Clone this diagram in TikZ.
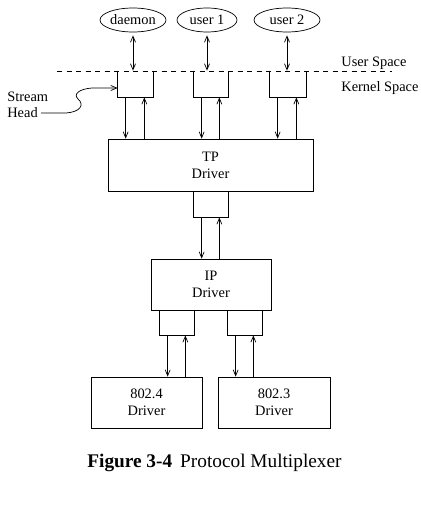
\documentclass[tikz,border=0pt]{standalone}
\usepackage{fontspec}
\setmainfont{Liberation Serif}
\usetikzlibrary{arrows.meta,shapes.geometric}
\begin{document}
\begin{tikzpicture}[x=1pt,y=-1pt,
  line width=0.7pt,
  every node/.style={font=\fontsize{14.4}{17}\selectfont},
  proc/.style={draw, ellipse, inner sep=0pt},
  drv/.style={draw, rectangle, align=center, inner sep=0pt},
  mod/.style={draw, rectangle, inner sep=0pt},
  headbox/.style={rectangle, inner sep=0pt},
  lbl/.style={inner sep=0pt},
  flow/.style={-{Straight Barb[length=6pt,width=5pt]}},
  both/.style={{Straight Barb[length=6pt,width=5pt]}-{Straight Barb[length=6pt,width=5pt]}, shorten <=3pt},
]
\useasboundingbox (0,0) rectangle (420,532);

% user processes
\node[proc, minimum width=66pt, minimum height=24pt] (daemon) at (133,20) {daemon};
\node[proc, minimum width=60pt, minimum height=24pt] (user1) at (207,20) {user 1};
\node[proc, minimum width=66pt, minimum height=24pt] (user2) at (287,20) {user 2};

% user/kernel boundary
\coordinate (bl) at (57,71);
\coordinate (br) at (392,71);
\draw[dash pattern=on 5pt off 4.5pt] (bl) -- (br);
\node[lbl, anchor=west] (us) at (341,63) {User Space};
\node[lbl, anchor=west] (ks) at (341,88) {Kernel Space};

% stream heads (open at the top, on the boundary)
\node[headbox, minimum width=35pt, minimum height=26pt] (sh1) at (135.5,84) {};
\node[headbox, minimum width=34pt, minimum height=26pt] (sh2) at (211,84) {};
\node[headbox, minimum width=36pt, minimum height=26pt] (sh3) at (288,84) {};
\foreach \b in {sh1,sh2,sh3}
  \draw (\b.north west) -- (\b.south west) -- (\b.south east) -- (\b.north east);

% user <-> stream head
\draw[both] (daemon.south) -- (daemon.south |- sh1.north);
\draw[both] (user1.south) -- (user1.south |- sh2.north);
\draw[both] (user2.south) -- (user2.south |- sh3.north);

% drivers
\node[drv, minimum width=205pt, minimum height=52pt] (tp) at (210.5,165) {TP\\Driver};
\node[mod, minimum width=35pt, minimum height=26pt] (tpl) at (210.5,204) {};
\node[drv, minimum width=120pt, minimum height=51pt] (ip) at (211,284.5) {IP\\Driver};
\node[mod, minimum width=35pt, minimum height=25pt] (ipa) at (176.5,322.5) {};
\node[mod, minimum width=35pt, minimum height=25pt] (ipb) at (244.5,322.5) {};
\node[drv, minimum width=111pt, minimum height=51pt] (d4) at (146.5,402.5) {802.4\\Driver};
\node[drv, minimum width=112pt, minimum height=51pt] (d3) at (274,402.5) {802.3\\Driver};

% stream heads <-> TP
\foreach \b/\dn/\up in {sh1/8/9, sh2/8/9, sh3/8/10} {
  \draw[flow] ([xshift=\dn pt]\b.south west) -- ([xshift=\dn pt]\b.south west |- tp.north);
  \draw[flow] ([xshift=-\up pt]\b.south east |- tp.north) -- ([xshift=-\up pt]\b.south east);
}

% TP <-> IP
\draw[flow] ([xshift=9pt]tpl.south west) -- ([xshift=9pt]tpl.south west |- ip.north);
\draw[flow] ([xshift=-9pt]tpl.south east |- ip.north) -- ([xshift=-9pt]tpl.south east);

% IP <-> network drivers
\draw[flow] ([xshift=9pt]ipa.south west) -- ([xshift=9pt]ipa.south west |- d4.north);
\draw[flow] ([xshift=-9pt]ipa.south east |- d4.north) -- ([xshift=-9pt]ipa.south east);
\draw[flow] ([xshift=9pt]ipb.south west) -- ([xshift=9pt]ipb.south west |- d3.north);
\draw[flow] ([xshift=-9pt]ipb.south east |- d3.north) -- ([xshift=-9pt]ipb.south east);

% stream head label
\node[lbl, anchor=west] (stream) at (7,97) {Stream};
\node[lbl, anchor=west] (head) at (7,113) {Head};
\draw[flow] ([xshift=3pt]head.east) -- (66,113)
  .. controls (80,112) and (85,105) .. (78,99)
  .. controls (73,94) and (79,89) .. (92,88)
  -- ([yshift=-4pt]sh1.west);

% caption
\node[lbl, anchor=west, font=\fontsize{19.3}{22}\selectfont] (cap) at (87,463)
  {\textbf{Figure 3-4}\hspace{8pt}Protocol Multiplexer};
\end{tikzpicture}
\end{document}
